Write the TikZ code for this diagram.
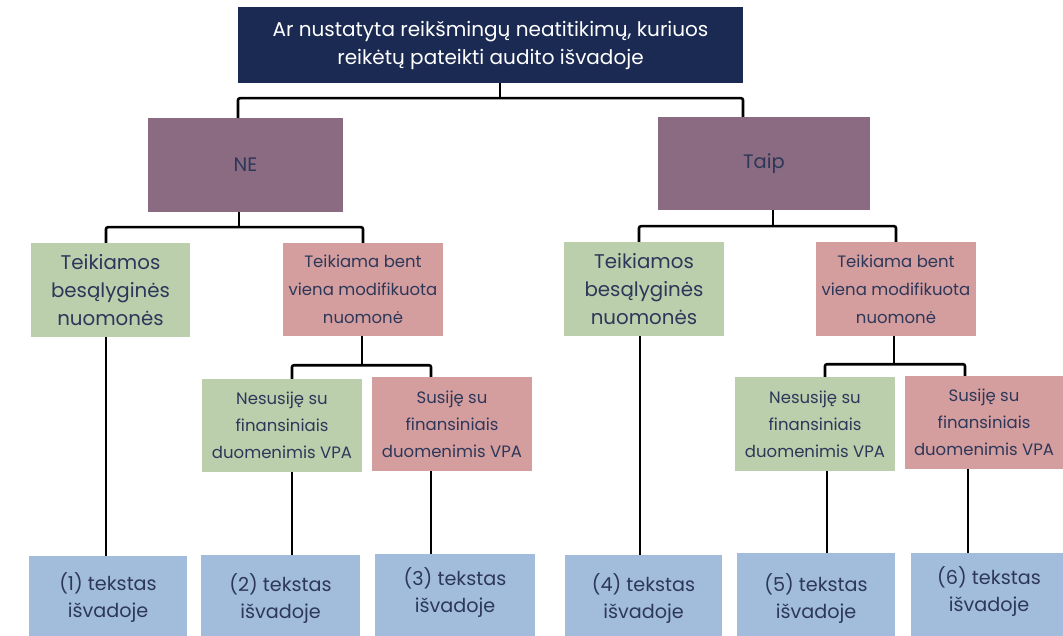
\documentclass[tikz,border=0pt]{standalone}
\usepackage{fontspec}
\setmainfont{Poppins}
\definecolor{navy}{HTML}{1B2A52}
\definecolor{mauve}{HTML}{8B6B81}
\definecolor{sage}{HTML}{BBCFAD}
\definecolor{rose}{HTML}{D49E9F}
\definecolor{sky}{HTML}{A2BDDB}
\definecolor{ink}{HTML}{2D3759}
\begin{document}
\begin{tikzpicture}[x=1pt,y=-1pt,
  box/.style={inner sep=0pt, align=center, text=ink, anchor=center},
  topbox/.style={box, fill=navy, text=white, font=\fontsize{20}{28}\selectfont},
  answer/.style={box, fill=mauve, font=\fontsize{19.5}{28}\selectfont},
  greenbig/.style={box, fill=sage, font=\fontsize{19.8}{28}\selectfont},
  pinkbig/.style={box, fill=rose, font=\fontsize{16.5}{28}\selectfont},
  greensmall/.style={box, fill=sage, font=\fontsize{16.5}{27}\selectfont},
  pinksmall/.style={box, fill=rose, font=\fontsize{16.5}{27}\selectfont},
  result/.style={box, fill=sky, font=\fontsize{19.2}{27}\selectfont},
  conn/.style={line width=2.6pt, rounded corners=2pt, black}]
\clip (0,0) rectangle (1063,636);
\fill[white] (0,0) rectangle (1063,636);
% nodes
\node[topbox, minimum width=505pt, minimum height=76pt] (top) at (490.5,45) {Ar nustatyta reikšmingų neatitikimų, kuriuos\\reikėtų pateikti audito išvadoje};
\node[answer, minimum width=195pt, minimum height=94pt] (ne) at (245.5,165) {NE};
\node[answer, minimum width=212pt, minimum height=93pt] (taip) at (764,163.5) {Taip};
\node[greenbig, minimum width=159pt, minimum height=94pt] (g1) at (110.5,290) {Teikiamos\\besąlyginės\\nuomonės};
\node[pinkbig, minimum width=160pt, minimum height=93pt] (p1) at (363,289.5) {Teikiama bent\\viena modifikuota\\nuomonė};
\node[greenbig, minimum width=160pt, minimum height=94pt] (g2) at (644,289) {Teikiamos\\besąlyginės\\nuomonės};
\node[pinkbig, minimum width=160pt, minimum height=94pt] (p2) at (896,289) {Teikiama bent\\viena modifikuota\\nuomonė};
\node[greensmall, minimum width=160pt, minimum height=93pt] (g3) at (282,425.5) {Nesusiję su\\finansiniais\\duomenimis VPA};
\node[pinksmall, minimum width=160pt, minimum height=94pt] (p3) at (452,424) {Susiję su\\finansiniais\\duomenimis VPA};
\node[greensmall, minimum width=160pt, minimum height=94pt] (g4) at (815,424) {Nesusiję su\\finansiniais\\duomenimis VPA};
\node[pinksmall, minimum width=158pt, minimum height=93pt] (p4) at (984,422.5) {Susiję su\\finansiniais\\duomenimis VPA};
% results
\node[result, minimum width=158pt, minimum height=84pt] (b1) at (108,598) {(1) tekstas\\išvadoje};
\node[result, minimum width=159pt, minimum height=88pt] (b2) at (280.5,599) {(2) tekstas\\išvadoje};
\node[result, minimum width=160pt, minimum height=78pt] (b3) at (455,593) {(3) tekstas\\išvadoje};
\node[result, minimum width=157pt, minimum height=88pt] (b4) at (643.5,599) {(4) tekstas\\išvadoje};
\node[result, minimum width=158pt, minimum height=92pt] (b5) at (816,599) {(5) tekstas\\išvadoje};
\node[result, minimum width=156pt, minimum height=78pt] (b6) at (989,592) {(6) tekstas\\išvadoje};
\foreach \b in {b1,b2,b3,b4,b5,b6}{
  \fill[sky] (\b.south west) rectangle ([yshift=-30pt]\b.south east);
}
% connectors
\draw[conn] ([xshift=9.5pt]top.south) -- ++(0,15) coordinate (jtop);
\draw[conn] ([xshift=-7.5pt]ne.north) |- (jtop) -| ([xshift=-21pt]taip.north);
\draw[conn] ([xshift=-6.5pt]ne.south) -- ++(0,15) coordinate (jne);
\draw[conn] ([xshift=-4.5pt]g1.north) |- (jne) -| (p1.north);
\draw[conn] ([xshift=9pt]taip.south) -- ++(0,16) coordinate (jtaip);
\draw[conn] ([xshift=-5pt]g2.north) |- (jtaip) -| (p2.north);
\draw[conn] ([xshift=-1pt]p1.south) -- ++(0,29) coordinate (jp1);
\draw[conn] ([xshift=10pt]g3.north) |- (jp1) -| ([xshift=-21pt]p3.north);
\draw[conn] ([xshift=-2pt]p2.south) -- ++(0,28) coordinate (jp2);
\draw[conn] ([xshift=10pt]g4.north) |- (jp2) -| ([xshift=-19pt]p4.north);
% down to results
\draw[conn] ([xshift=-4.5pt]g1.south) -- ([xshift=-4.5pt]g1.south |- b1.north);
\draw[conn] ([xshift=10pt]g3.south) -- ([xshift=10pt]g3.south |- b2.north);
\draw[conn] ([xshift=-21pt]p3.south) -- ([xshift=-21pt]p3.south |- b3.north);
\draw[conn] ([xshift=-4pt]g2.south) -- ([xshift=-4pt]g2.south |- b4.north);
\draw[conn] ([xshift=12pt]g4.south) -- ([xshift=12pt]g4.south |- b5.north);
\draw[conn] ([xshift=-16pt]p4.south) -- ([xshift=-16pt]p4.south |- b6.north);
\end{tikzpicture}
\end{document}
